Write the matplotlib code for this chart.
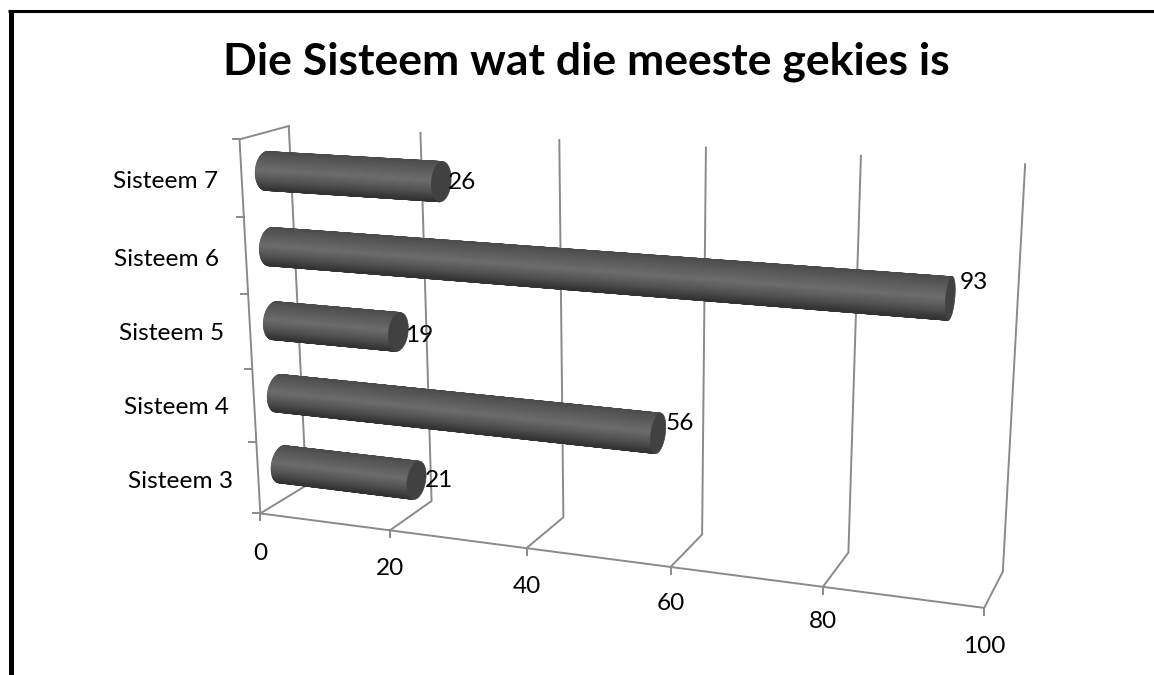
import numpy as np
import matplotlib
matplotlib.use("Agg")
import matplotlib.pyplot as plt
from matplotlib.collections import PolyCollection

# chart values
categories = ["Sisteem 3", "Sisteem 4", "Sisteem 5", "Sisteem 6", "Sisteem 7"]
values = [21, 56, 19, 93, 26]
value_ticks = [0, 20, 40, 60, 80, 100]
title = "Die Sisteem wat die meeste gekies is"

# where the box of the 3d chart sits on the picture, per value tick
front_floor = [(260, 513), (390, 530), (527, 548), (671, 567), (823, 587), (984, 608)]
back_floor = [(306, 486), (432, 501), (563, 517), (702, 535), (848, 552), (1003, 572)]
back_top = [(289, 126), (421, 133), (559, 140), (706, 147), (861, 155), (1025, 165)]
left_top = (239, 140)

label_off = [(22, 0), (22, -10), (21, 3), (24, -16), (21, 1)]
cat_label_x = [233, 229, 224, 219, 218]
cat_label_y = [481, 408, 334, 259, 182]
tick_label_dy = [40, 38, 38, 37, 35, 39]

GRID = "#8a8a8a"
LW = 1.4
R_Y = 0.05
R_Z = 0.23


def solve_camera():
    # least squares camera matrix from the box corners
    world, image = [], []
    for i, t in enumerate(value_ticks):
        world += [(t, 0, 0), (t, 0, 1), (t, 1, 1)]
        image += [front_floor[i], back_floor[i], back_top[i]]
    world.append((0, 1, 0))
    image.append(left_top)
    rows = []
    for (x, y, z), (u, v) in zip(world, image):
        x = x / 100.0
        rows.append([x, y, z, 1, 0, 0, 0, 0, -u * x, -u * y, -u * z, -u])
        rows.append([0, 0, 0, 0, x, y, z, 1, -v * x, -v * y, -v * z, -v])
    _, _, vt = np.linalg.svd(np.array(rows, dtype=float))
    return vt[-1].reshape(3, 4)


CAM = solve_camera()


def proj(val, h, d):
    val, h, d = np.broadcast_arrays(val / 100.0, h, d)
    p = CAM @ np.stack([val, h, d, np.ones_like(val)])
    return p[0] / p[2], p[1] / p[2]


def shade(t):
    # t goes 0 at upper silhouette, 1 at lower silhouette
    g = np.interp(t, [0, 0.12, 0.5, 0.78, 0.93, 1], [0.29, 0.33, 0.42, 0.31, 0.23, 0.2])
    return (g, g, g)


def draw_bar(ax, val, idx):
    h = (idx + 0.5) / len(categories)
    a = np.linspace(0, 2 * np.pi, 121)
    ch, cd = h + R_Y * np.sin(a), 0.5 + R_Z * np.cos(a)
    x0, y0 = proj(0.0, ch, cd)
    x1, y1 = proj(float(val), ch, cd)
    polys, ys = [], []
    for i in range(len(a) - 1):
        q = np.array([[x0[i], y0[i]], [x1[i], y1[i]], [x1[i + 1], y1[i + 1]], [x0[i + 1], y0[i + 1]]])
        area = 0.5 * np.sum(q[:, 0] * np.roll(q[:, 1], -1) - np.roll(q[:, 0], -1) * q[:, 1])
        if area > 0:
            polys.append(q)
            ys.append(q[:, 1].mean() - np.interp(q[:, 0].mean(), [x0.mean(), x1.mean()], [y0.mean(), y1.mean()]))
    ys = np.array(ys)
    ts = (ys - ys.min()) / (ys.max() - ys.min())
    cols = [shade(t) for t in ts]
    ax.add_collection(PolyCollection(polys, facecolors=cols, edgecolors=cols, linewidths=0.6, zorder=3))
    ax.fill(x1, y1, color="#414141", lw=0.5, zorder=4)


fig = plt.figure(figsize=(11.54, 6.75), dpi=100)
ax = fig.add_axes([0, 0, 1, 1])
ax.set_xlim(0, 1154)
ax.set_ylim(675, 0)
ax.axis("off")

plt.rcParams["font.family"] = "Lato"

# frame of the slide
ax.plot([10.7, 10.7], [675, 10.5], color="black", lw=3.6, solid_capstyle="butt", zorder=1)
ax.plot([8, 1154], [10.5, 10.5], color="black", lw=2.2, solid_capstyle="butt", zorder=1)

ax.text(586, 62, title, fontsize=32, fontweight="bold", ha="center", va="center")

# gridlines
for i, t in enumerate(value_ticks):
    fx, fy = proj(float(t), 0.0, 0.0)
    bx, by = proj(float(t), 0.0, 1.0)
    tx, ty = proj(float(t), 1.0, 1.0)
    ax.plot([fx, bx, tx], [fy, by, ty], color=GRID, lw=LW, zorder=2)
    ax.plot([fx, fx], [fy, fy + 7], color=GRID, lw=LW, zorder=2)
    ax.text(fx, fy + tick_label_dy[i], str(t), fontsize=17.6, ha="center", va="center", color="black")

x_a, y_a = proj(np.array([0.0, 100.0]), np.array([0.0, 0.0]), np.array([0.0, 0.0]))
ax.plot(x_a, y_a, color=GRID, lw=LW, zorder=2)

# left wall
n = len(categories)
hs = np.linspace(0, 1, n + 1)
wx, wy = proj(np.zeros(n + 1), hs, np.zeros(n + 1))
ax.plot(wx, wy, color=GRID, lw=LW, zorder=2)
for x, y in zip(wx, wy):
    ax.plot([x - 7, x], [y, y], color=GRID, lw=LW, zorder=2)
tx, ty = proj(np.array([0.0, 0.0]), np.array([1.0, 1.0]), np.array([0.0, 1.0]))
ax.plot(tx, ty, color=GRID, lw=LW, zorder=2)

for i, (c, v) in enumerate(zip(categories, values)):
    draw_bar(ax, v, i)
    ex, ey = proj(float(v), (i + 0.5) / n, 0.5)
    ax.text(ex + label_off[i][0], ey + label_off[i][1], str(v), fontsize=17.6, ha="center", va="center", zorder=5)
    ax.text(cat_label_x[i], cat_label_y[i], c, fontsize=17.6, ha="right", va="center")

fig.savefig("out.png", dpi=100)
